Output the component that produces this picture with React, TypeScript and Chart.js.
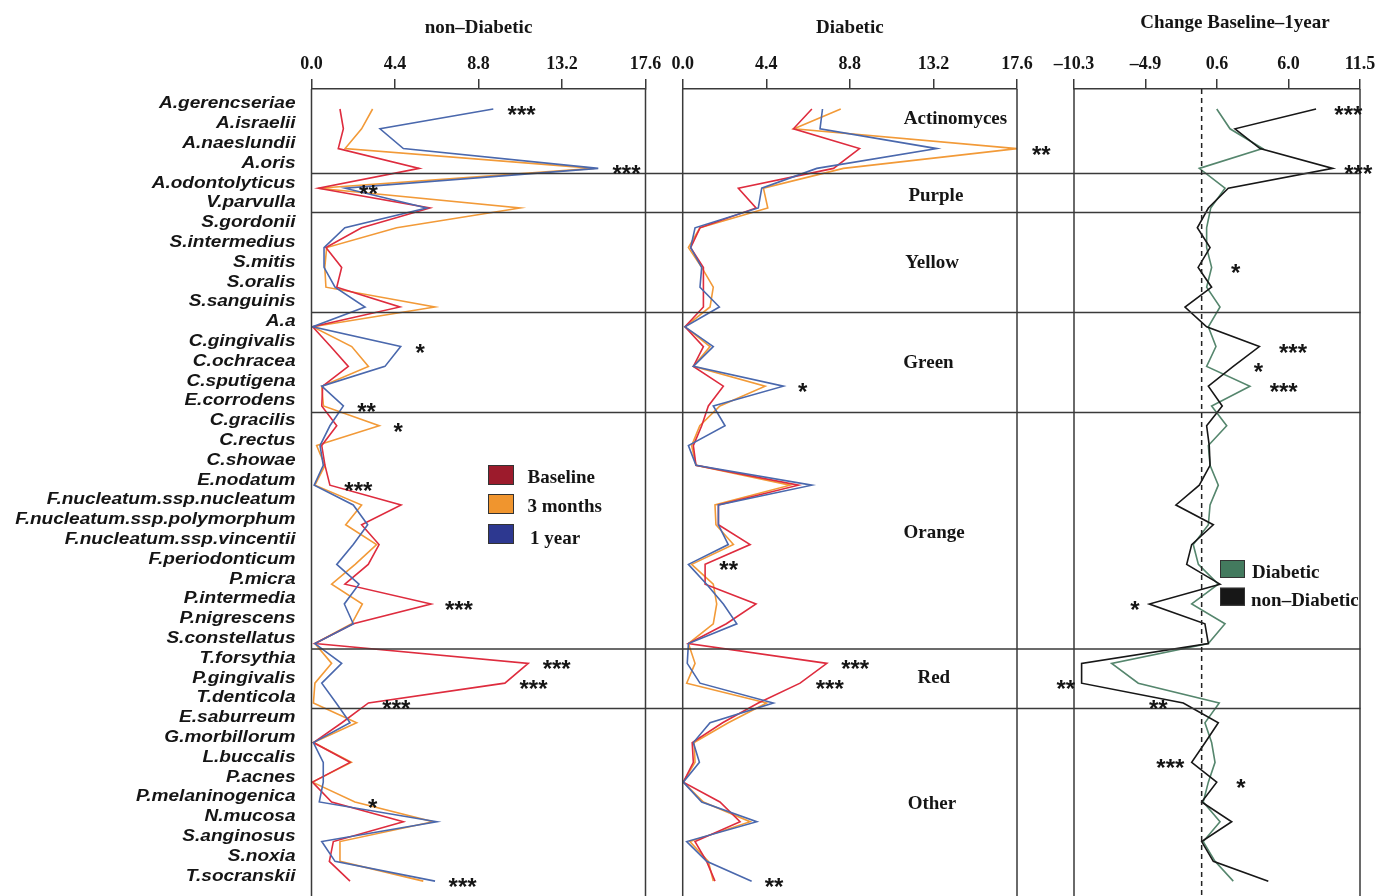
import React, { useEffect, useRef } from 'react';
import { Chart, registerables } from 'chart.js';

Chart.register(...registerables);

// ---------------- data ----------------
const SPECIES = [
  'A.gerencseriae', 'A.israelii', 'A.naeslundii', 'A.oris', 'A.odontolyticus', 'V.parvulla',
  'S.gordonii', 'S.intermedius', 'S.mitis', 'S.oralis', 'S.sanguinis', 'A.a',
  'C.gingivalis', 'C.ochracea', 'C.sputigena', 'E.corrodens', 'C.gracilis', 'C.rectus',
  'C.showae', 'E.nodatum', 'F.nucleatum.ssp.nucleatum', 'F.nucleatum.ssp.polymorphum',
  'F.nucleatum.ssp.vincentii', 'F.periodonticum', 'P.micra', 'P.intermedia', 'P.nigrescens',
  'S.constellatus', 'T.forsythia', 'P.gingivalis', 'T.denticola', 'E.saburreum',
  'G.morbillorum', 'L.buccalis', 'P.acnes', 'P.melaninogenica', 'N.mucosa', 'S.anginosus',
  'S.noxia', 'T.socranskii',
];

const GROUP_NAMES = ['Actinomyces', 'Purple', 'Yellow', 'Green', 'Orange', 'Red', 'Other'];
const GROUP_LABEL_ROW = [0.43, 4.32, 7.72, 12.74, 21.36, 28.65, 35.03];
const GROUP_LABEL_X = [14.36, 13.33, 13.13, 12.94, 13.24, 13.22, 13.12];
const GROUP_BREAKS = [3.26, 5.23, 10.28, 15.33, 27.28, 30.28];

const ABUND_TICKS = [0, 4.4, 8.8, 13.2, 17.6];
const ABUND_TICK_LABELS = ['0.0', '4.4', '8.8', '13.2', '17.6'];
const CHANGE_TICKS = [-10.3, -4.85, 0.6, 6.05, 11.5];
const CHANGE_TICK_LABELS = ['\u201310.3', '\u20134.9', '0.6', '6.0', '11.5'];
const CHANGE_REF_LINE = -0.57;

const TITLES = ['non\u2013Diabetic', 'Diabetic', 'Change Baseline\u20131year'];
const TIME_LABELS = ['Baseline', '3 months', '1 year'];
const CHANGE_LABELS = ['Diabetic', 'non\u2013Diabetic'];

// non-diabetic mean counts
const ND_BASELINE = [1.5, 1.68, 1.41, 5.68, 0.36, 6.24, 2.64, 0.76, 1.59, 1.33, 4.66, 0.06, 1.01, 1.94, 0.59, 0.54, 1.33, 0.54, 0.71, 0.97, 4.72, 2.64, 3.56, 2.99, 1.76, 6.3, 2.2, 0.18, 11.42, 10.19, 3.0, 1.6, 0.1, 2.03, 0.05, 1.06, 4.84, 1.15, 0.94, 2.03];
const ND_3MONTHS = [3.22, 2.64, 1.77, 14.9, 0.36, 10.99, 4.49, 0.8, 0.7, 0.76, 6.5, 0.06, 2.12, 3.0, 0.54, 0.63, 3.57, 0.27, 0.71, 0.18, 2.64, 1.8, 3.43, 2.3, 1.06, 2.68, 2.12, 0.18, 1.06, 0.18, 0.1, 2.38, 0.1, 2.1, 0.05, 2.29, 6.4, 1.5, 1.5, 5.89];
const ND_1YEAR = [9.58, 3.61, 4.84, 15.11, 1.77, 6.07, 1.76, 0.66, 0.66, 1.24, 2.82, 0.06, 4.7, 3.87, 0.54, 1.68, 0.97, 0.45, 0.62, 0.14, 2.2, 2.96, 2.2, 1.33, 2.5, 1.73, 2.2, 0.18, 1.59, 0.54, 1.3, 2.03, 0.1, 0.62, 0.62, 0.41, 6.6, 0.54, 1.24, 6.51];

// diabetic mean counts
const D_BASELINE = [6.8, 5.83, 9.31, 7.94, 2.93, 3.86, 0.91, 0.42, 1.09, 1.09, 1.09, 0.12, 1.09, 0.56, 2.14, 1.35, 1.0, 0.56, 0.7, 6.09, 1.88, 1.88, 3.55, 1.18, 1.18, 3.86, 2.3, 0.3, 7.59, 6.18, 3.98, 2.1, 0.5, 0.56, 0.03, 1.96, 3.02, 0.65, 1.26, 1.7];
const D_3MONTHS = [8.32, 5.86, 17.6, 8.46, 4.25, 4.48, 0.91, 0.3, 1.0, 1.61, 1.44, 0.12, 1.44, 0.56, 4.34, 1.96, 0.9, 0.47, 0.7, 5.65, 1.7, 1.75, 2.67, 0.47, 1.61, 1.79, 1.61, 0.3, 0.65, 0.21, 4.42, 2.4, 0.6, 0.65, 0.03, 1.09, 3.55, 0.38, 1.35, 1.61];
const D_1YEAR = [7.36, 7.23, 13.38, 7.06, 4.16, 3.98, 0.65, 0.42, 1.0, 0.91, 1.93, 0.12, 1.61, 0.56, 5.3, 1.61, 2.23, 0.3, 0.7, 6.8, 1.88, 1.88, 2.4, 0.3, 1.26, 2.14, 2.85, 0.3, 0.24, 0.91, 4.77, 1.44, 0.56, 0.88, 0.03, 1.0, 3.9, 0.21, 1.26, 3.63];

// change baseline - 1 year
const CHANGE_DIABETIC = [0.58, 1.59, 4.08, -0.75, 1.21, 0.12, -0.19, -0.19, 0.19, -0.19, 0.83, -0.06, 0.52, -0.19, 3.11, 0.19, 1.34, -0.06, 0.07, 0.7, 0.07, -0.06, -1.21, -0.82, 0.7, -1.33, 1.21, -0.06, -7.43, -5.4, 0.77, -0.32, 0.19, 0.45, -0.06, -0.45, 0.83, -0.45, 0.45, 1.84];
const CHANGE_NONDIABETIC = [8.15, 1.97, 3.88, 9.42, 1.46, -0.06, -0.9, 0.07, -0.84, 0.19, -1.84, -0.19, 3.83, 1.84, -0.06, 1.0, -0.19, 0.01, 0.07, -0.75, -2.53, 0.32, -1.33, -1.71, 0.83, -4.56, -0.32, -0.06, -9.72, -9.72, -1.97, 0.7, -0.3, -1.33, 0.58, -0.57, 1.72, -0.57, 0.32, 4.51];

// significance marks: [row, x value, text]
const STARS_ND: [number, number, string][] = [
  [0, 11.07, '***'], [3, 16.6, '***'], [4, 3.0, '**'], [12, 5.72, '*'], [15, 2.9, '**'],
  [16, 4.57, '*'], [19, 2.47, '***'], [25, 7.77, '***'], [28, 12.92, '***'], [29, 11.7, '***'],
  [30, 4.47, '***'], [35, 3.22, '*'], [39, 7.96, '***'],
];
const STARS_D: [number, number, string][] = [
  [2, 18.88, '**'], [14, 6.32, '*'], [23, 2.42, '**'], [28, 9.08, '***'], [29, 7.74, '***'], [39, 4.81, '**'],
];
const STARS_CHANGE: [number, number, string][] = [
  [0, 10.61, '***'], [3, 11.37, '***'], [8, 2.02, '*'], [12, 6.39, '***'], [13, 3.75, '*'],
  [14, 5.68, '***'], [25, -5.65, '*'], [29, -10.93, '**'], [30, -3.87, '**'], [33, -2.96, '***'], [34, 2.43, '*'],
];

// ---------------- layout & styles ----------------
const W = 1378;
const H = 896;
const PLOT_TOP = 89;
const PANEL_X: Record<string, [number, number]> = {
  xND: [311.5, 645.5],
  xD: [682.7, 1017],
  xC: [1074, 1360],
};
const SPECIES_RIGHT = 295.5;

const SERIF = '"Liberation Serif", "Times New Roman", serif';
const SANS = '"Liberation Sans", Arial, sans-serif';
const FRAME = '#3a3a3a';
const TEXT = '#151515';
const RED = '#de2c3e';
const ORANGE = '#f29a38';
const BLUE = '#4a68ad';
const RED_BOX = '#9c1b2c';
const ORANGE_BOX = '#f0952e';
const BLUE_BOX = '#2d3890';
const GREEN = '#55866d';
const GREEN_BOX = '#437a5e';
const BLACK = '#171717';

const Y_MIN = -1.01;
const Y_MAX = 39.75;

const toPoints = (vals: number[]) => vals.map((v, i) => ({ x: v, y: i }));

function lineDs(vals: number[], color: string, order: number, xAxisID: string) {
  return {
    data: toPoints(vals),
    xAxisID,
    yAxisID: 'y',
    borderColor: color,
    backgroundColor: color,
    borderWidth: 1.6,
    showLine: true,
    pointRadius: 0,
    pointHoverRadius: 0,
    fill: false,
    tension: 0,
    order,
  };
}

function xScale(min: number, max: number, ticks: number[], labels: string[], height: number) {
  return {
    type: 'linear',
    position: 'top',
    min,
    max,
    afterBuildTicks: (s: any) => {
      s.ticks = ticks.map((v) => ({ value: v }));
    },
    afterFit: (s: any) => {
      s.height = height;
    },
    ticks: {
      autoSkip: false,
      maxRotation: 0,
      minRotation: 0,
      padding: 4,
      color: TEXT,
      font: { family: SERIF, size: 18, weight: 'bold' },
      callback: (_v: any, i: number) => labels[i],
    },
    grid: { drawOnChartArea: false, drawTicks: true, tickLength: 10, color: FRAME, lineWidth: 1.5 },
    border: { display: true, color: FRAME, width: 1.5 },
  };
}

// place each top axis over its own panel (side by side) after Chart.js layout
const panelLayoutPlugin = {
  id: 'panelLayout',
  afterLayout(chart: any) {
    Object.keys(PANEL_X).forEach((id) => {
      const s = chart.scales[id];
      if (!s) return;
      const [l, r] = PANEL_X[id];
      s.left = l;
      s.right = r;
      s.width = r - l;
      s.top = 0;
      s.bottom = chart.chartArea.top;
      s.height = s.bottom;
      s._labelItems = null;
      s._gridLineItems = null;
      s.configure();
    });
  },
};

function drawCapCentered(ctx: any, text: string, x: number, cy: number) {
  const m = ctx.measureText('H');
  ctx.fillText(text, x, cy + m.actualBoundingBoxAscent / 2);
}

function drawStars(ctx: any, xs: any, ys: any, stars: [number, number, string][]) {
  ctx.save();
  ctx.font = `bold 24px ${SANS}`;
  ctx.fillStyle = TEXT;
  ctx.textAlign = 'center';
  ctx.textBaseline = 'alphabetic';
  const m = ctx.measureText('*');
  const shift = (m.actualBoundingBoxAscent - m.actualBoundingBoxDescent) / 2;
  stars.forEach(([row, xv, txt]) => {
    ctx.fillText(txt, xs.getPixelForValue(xv), ys.getPixelForValue(row) + 1.5 + shift);
  });
  ctx.restore();
}

function drawLegend(
  ctx: any, left: number, top: number, labels: string[], colors: string[],
  boxW: number, boxH: number, boxX: number, boxY: number[], textX: number[], textY: number[]
) {
  ctx.font = `bold 19px ${SERIF}`;
  ctx.textAlign = 'left';
  labels.forEach((lab, i) => {
    const bx = left + boxX;
    const by = top + boxY[i];
    ctx.fillStyle = colors[i];
    ctx.fillRect(bx, by, boxW, boxH);
    ctx.strokeStyle = '#333';
    ctx.lineWidth = 1;
    ctx.strokeRect(bx + 0.5, by + 0.5, boxW - 1, boxH - 1);
    ctx.fillStyle = TEXT;
    drawCapCentered(ctx, lab, left + textX[i], top + textY[i]);
  });
}

const decorPlugin = {
  id: 'decor',
  afterDraw(chart: any) {
    const { ctx, chartArea } = chart;
    const ys = chart.scales.y;
    const xND = chart.scales.xND;
    const xD = chart.scales.xD;
    const xC = chart.scales.xC;
    const top = chartArea.top;
    const bottom = chartArea.bottom;
    ctx.save();
    ctx.strokeStyle = FRAME;
    ctx.lineWidth = 1.5;

    // group dividers spanning all panels and the gaps between them
    GROUP_BREAKS.forEach((b) => {
      const y = ys.getPixelForValue(b);
      ctx.beginPath();
      ctx.moveTo(xND.left, y);
      ctx.lineTo(xC.right + 0.5, y);
      ctx.stroke();
    });

    // panel side frames
    [xND, xD, xC].forEach((s) => {
      ctx.beginPath();
      ctx.moveTo(s.left, top);
      ctx.lineTo(s.left, bottom + 2);
      ctx.moveTo(s.right, top);
      ctx.lineTo(s.right, bottom + 2);
      ctx.stroke();
    });

    // dashed reference line in change panel
    ctx.save();
    ctx.setLineDash([5, 4]);
    ctx.strokeStyle = '#222';
    const rx = xC.getPixelForValue(CHANGE_REF_LINE);
    ctx.beginPath();
    ctx.moveTo(rx, top);
    ctx.lineTo(rx, bottom);
    ctx.stroke();
    ctx.restore();

    // titles
    ctx.fillStyle = TEXT;
    ctx.font = `bold 19px ${SERIF}`;
    ctx.textAlign = 'center';
    ctx.textBaseline = 'alphabetic';
    ctx.fillText(TITLES[0], (xND.left + xND.right) / 2, 33);
    ctx.fillText(TITLES[1], (xD.left + xD.right) / 2, 33);
    ctx.fillText(TITLES[2], (xC.left + xC.right) / 2 + 18, 28);

    // group labels in diabetic panel
    GROUP_NAMES.forEach((g, i) => {
      drawCapCentered(ctx, g, xD.getPixelForValue(GROUP_LABEL_X[i]), ys.getPixelForValue(GROUP_LABEL_ROW[i]));
    });

    // species labels
    ctx.font = `italic bold 16px ${SANS}`;
    ctx.textAlign = 'right';
    const capA = ctx.measureText('H').actualBoundingBoxAscent;
    SPECIES.forEach((s, i) => {
      const cy = ys.getPixelForValue(i) - 6.5;
      ctx.save();
      ctx.translate(SPECIES_RIGHT, cy + capA / 2);
      ctx.scale(1.19, 1);
      ctx.fillText(s, 0, 0);
      ctx.restore();
    });

    // legends
    drawLegend(ctx, xND.left, top, TIME_LABELS, [RED_BOX, ORANGE_BOX, BLUE_BOX],
      26, 20, 176.5, [376, 405, 435], [216, 216, 218.5], [387, 416, 448]);
    drawLegend(ctx, xC.left, top, CHANGE_LABELS, [GREEN_BOX, BLACK],
      25, 18, 146, [471, 498.7], [178, 177], [482.7, 510.3]);
    ctx.restore();

    drawStars(ctx, xND, ys, STARS_ND);
    drawStars(ctx, xD, ys, STARS_D);
    drawStars(ctx, xC, ys, STARS_CHANGE);
  },
};

export default function App() {
  const ref = useRef<HTMLCanvasElement>(null);

  useEffect(() => {
    if (!ref.current) return;
    const chart = new Chart(ref.current, {
      type: 'scatter',
      data: {
        datasets: [
          lineDs(ND_BASELINE, RED, 2, 'xND'),
          lineDs(ND_3MONTHS, ORANGE, 3, 'xND'),
          lineDs(ND_1YEAR, BLUE, 1, 'xND'),
          lineDs(D_BASELINE, RED, 2, 'xD'),
          lineDs(D_3MONTHS, ORANGE, 3, 'xD'),
          lineDs(D_1YEAR, BLUE, 1, 'xD'),
          lineDs(CHANGE_DIABETIC, GREEN, 2, 'xC'),
          lineDs(CHANGE_NONDIABETIC, BLACK, 1, 'xC'),
        ],
      },
      options: {
        animation: false,
        responsive: false,
        maintainAspectRatio: false,
        events: [],
        layout: { padding: { left: PANEL_X.xND[0], right: W - PANEL_X.xC[1], top: 0, bottom: 0 } },
        plugins: { legend: { display: false }, tooltip: { enabled: false }, title: { display: false } },
        scales: {
          xND: xScale(0, 17.6, ABUND_TICKS, ABUND_TICK_LABELS, PLOT_TOP),
          xD: xScale(0, 17.6, ABUND_TICKS, ABUND_TICK_LABELS, 0),
          xC: xScale(-10.3, 11.5, CHANGE_TICKS, CHANGE_TICK_LABELS, 0),
          y: { type: 'linear', display: false, reverse: true, min: Y_MIN, max: Y_MAX },
        },
      } as any,
      plugins: [panelLayoutPlugin, decorPlugin] as any,
    } as any);
    return () => chart.destroy();
  }, []);

  return (
    <div
      style={{
        position: 'fixed',
        left: 0,
        top: 0,
        width: W,
        height: H,
        background: '#fff',
        overflow: 'hidden',
      }}
    >
      <canvas ref={ref} width={W} height={H} style={{ position: 'absolute', left: 0, top: 0 }} />
    </div>
  );
}
